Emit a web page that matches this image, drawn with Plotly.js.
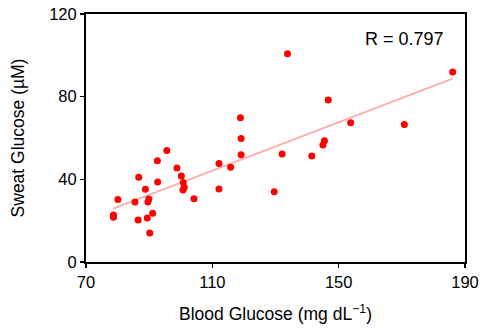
<!DOCTYPE html>
<html>
<head>
<meta charset="utf-8">
<script src="https://cdn.plot.ly/plotly-3.0.1.min.js"></script>
<style>html,body{margin:0;padding:0;background:#fff;}#chart{width:484px;height:332px;}</style>
</head>
<body>
<div id="chart"></div>
<script>
const bloodGlucose = [78.7, 78.7, 80.1, 85.5, 86.7, 86.5, 88.8, 89.9, 89.6, 89.4, 90.2, 91.1, 92.6, 92.7, 95.6, 98.8, 100.2, 100.8, 101.1, 100.7, 104.2, 112.1, 112.1, 115.8, 118.9, 119.1, 119.1, 129.6, 132.1, 133.8, 141.5, 145.0, 145.5, 146.7, 153.8, 170.8, 186.1];
const sweatGlucose = [22.7, 21.7, 30.2, 29.0, 41.0, 20.3, 35.2, 30.5, 29.0, 21.3, 14.0, 23.6, 49.0, 38.7, 53.9, 45.5, 41.6, 38.5, 36.0, 34.8, 30.6, 47.7, 35.3, 45.8, 69.8, 59.7, 51.9, 34.0, 52.3, 100.8, 51.3, 56.6, 58.7, 78.4, 67.4, 66.5, 91.9];
const fitX = [78.6, 186.1];
const fitY = [25.8, 88.7];
const xTicks = [70, 110, 150, 190];
const yTicks = [0, 40, 80, 120];
const rLabel = "R = 0.797";

const font = {family: "Liberation Sans, Arial, sans-serif", color: "#000"};

const traces = [
  {x: fitX, y: fitY, type: "scatter", mode: "lines",
   line: {color: "#ffadad", width: 2}, hoverinfo: "skip"},
  {x: bloodGlucose, y: sweatGlucose, type: "scatter", mode: "markers",
   marker: {color: "#ff0000", size: 7}}
];

const layout = {
  width: 484, height: 332,
  margin: {l: 86, r: 19, t: 14, b: 70},
  paper_bgcolor: "#fff", plot_bgcolor: "#fff",
  showlegend: false,
  font: Object.assign({size: 16}, font),
  xaxis: {
    range: [70, 190], tickvals: xTicks, ticktext: xTicks.map(String),
    showgrid: false, zeroline: false, showline: true, mirror: true,
    linecolor: "#000", linewidth: 2, ticks: "outside", ticklen: 4, tickwidth: 1.5, tickcolor: "#000",
    tickfont: Object.assign({size: 16.5}, font),
    title: {text: "Blood Glucose (mg dL<sup>\u22121</sup>)", font: Object.assign({size: 17.5}, font), standoff: 18}
  },
  yaxis: {
    range: [0, 120], tickvals: yTicks, ticktext: yTicks.map(String),
    showgrid: false, zeroline: false, showline: true, mirror: true,
    linecolor: "#000", linewidth: 2, ticks: "outside", ticklen: 4, tickwidth: 1.5, tickcolor: "#000",
    tickfont: Object.assign({size: 16.5}, font),
    title: {text: "Sweat Glucose (\u00b5M)", font: Object.assign({size: 17.5}, font), standoff: 20}
  },
  annotations: [{
    text: rLabel, xref: "paper", yref: "paper", x: 0.95, y: 0.9,
    xanchor: "right", yanchor: "middle", showarrow: false,
    font: Object.assign({size: 18}, font)
  }]
};

Plotly.newPlot("chart", traces, layout, {displayModeBar: false, staticPlot: true});
</script>
</body>
</html>
